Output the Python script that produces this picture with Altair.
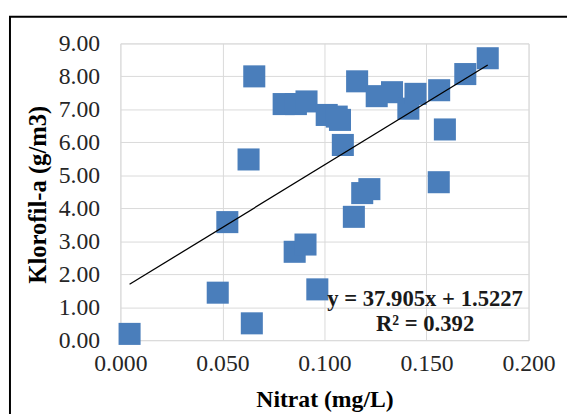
import altair as alt
import pandas as pd

# --- data ---
nitrat = [0.0045, 0.0477, 0.0524, 0.0628, 0.0644, 0.0656, 0.0800, 0.0860, 0.0912,
          0.0854, 0.0907, 0.0965, 0.1011, 0.1060, 0.1076, 0.1090, 0.1144, 0.1185,
          0.1220, 0.1160, 0.1256, 0.1331, 0.1411, 0.1446, 0.1562, 0.1590, 0.1560,
          0.1690, 0.1800]
klorofil = [0.19, 1.44, 3.58, 5.48, 0.51, 8.00, 7.16, 7.16, 7.24,
            2.68, 2.90, 1.54, 6.83, 6.78, 6.68, 5.92, 3.74, 4.46,
            4.58, 7.85, 7.40, 7.52, 7.02, 7.47, 7.58, 6.39, 4.79,
            8.07, 8.55]
slope = 37.905
intercept = 1.5227
r2 = 0.392
x_ticks = [0.0, 0.05, 0.10, 0.15, 0.20]
y_ticks = [0, 1, 2, 3, 4, 5, 6, 7, 8, 9]
eq_lines = [f"y = {slope}x + {intercept}", f"R² = {r2}"]
eq_x = 0.1493
eq_y = [1.25, 0.50]

FONT = "Liberation Serif"
BLUE = "#4a7ebb"

df = pd.DataFrame({"x": nitrat, "y": klorofil})
xmin, xmax = min(nitrat), max(nitrat)
trend = pd.DataFrame({"x": [xmin, xmax],
                      "y": [slope * xmin + intercept, slope * xmax + intercept]})
eq = pd.DataFrame({"x": [eq_x, eq_x], "y": eq_y, "t": eq_lines})

xscale = alt.Scale(domain=[0, 0.2], nice=False, zero=False)
yscale = alt.Scale(domain=[0, 9], nice=False)

xaxis = alt.Axis(values=x_ticks, format=".3f", title="Nitrat (mg/L)", grid=True,
                 gridColor="#d9d9d9", ticks=False, domain=False,
                 labelFont=FONT, labelFontSize=24, labelColor="#262626",
                 labelPadding=12, labelFlush=False, labelOverlap=False,
                 titleFont=FONT, titleFontSize=24, titleFontWeight="bold",
                 titleColor="#000000", titleY=60, titleBaseline="middle")
yaxis = alt.Axis(values=y_ticks, format=".2f", title="Klorofil-a (g/m3)", grid=True,
                 gridColor="#d9d9d9", ticks=False, domain=False,
                 labelFont=FONT, labelFontSize=24, labelColor="#262626",
                 labelPadding=21, labelFlush=False, labelOverlap=False,
                 titleFont=FONT, titleFontSize=25, titleFontWeight="bold",
                 titleColor="#000000", titleX=-84, titleY=153,
                 titleBaseline="middle", titleAngle=-90)

X = alt.X("x:Q", scale=xscale, axis=xaxis)
Y = alt.Y("y:Q", scale=yscale, axis=yaxis)

frame = alt.Chart(pd.DataFrame({"a": [0]})).mark_rect(
    fillOpacity=0, stroke="black", strokeWidth=2
).encode(x=alt.value(-112), x2=alt.value(800), y=alt.value(-27), y2=alt.value(800))

points = alt.Chart(df).mark_square(size=500, color=BLUE, opacity=1, clip=False).encode(
    x=X, y=Y
)

line = alt.Chart(trend).mark_line(color="black", strokeWidth=1.3).encode(x=X, y=Y)

text = alt.Chart(eq).mark_text(font=FONT, fontSize=23, fontWeight="bold",
                               color="#1a1a1a", align="center", baseline="middle").encode(
    x=X, y=Y, text="t:N"
)

chart = alt.layer(frame, points, line, text).properties(
    width=414, height=301,
    autosize=alt.AutoSizeParams(type="none"),
    padding={"left": 114, "top": 33, "right": 39, "bottom": 72},
).configure_view(stroke="black", strokeWidth=2).configure(background="white")

chart.save("out.html", embed_options={"renderer": "svg", "actions": False})
